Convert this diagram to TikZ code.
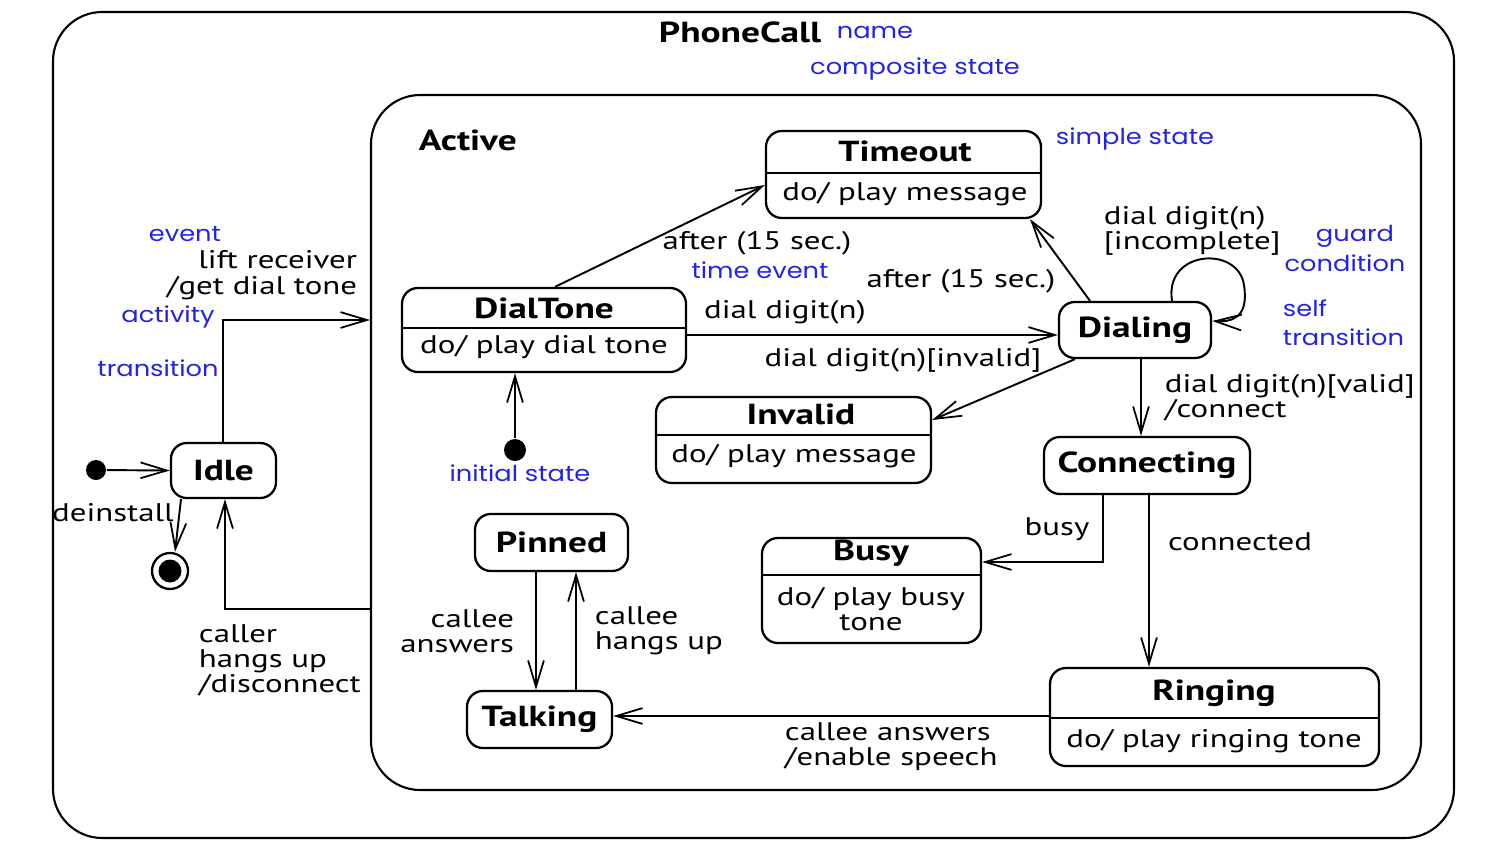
\documentclass[tikz,border=0pt]{standalone}
\usepackage{fontspec}
\setmainfont{PT Sans}[FakeStretch=1.29]
\newfontfamily\bluefont{Poppins}[FakeStretch=1.17]
\usetikzlibrary{arrows.meta,fit,calc}
\definecolor{annblue}{RGB}{35,35,230}
\begin{document}
\begin{tikzpicture}[x=0.02cm,y=-0.02cm,line width=1.1pt,
  tip/.style={-{Straight Barb[length=15pt,width=9pt,line width=1pt]}},
  st/.style={draw,line width=1.3pt,rounded corners=9pt,inner sep=0pt},
  ttl/.style={font=\fontsize{16.5}{18}\selectfont\bfseries,inner sep=0pt},
  body/.style={font=\fontsize{14.5}{14.2}\selectfont,inner sep=0pt,align=center},
  lbl/.style={font=\fontsize{14.5}{14.2}\selectfont,inner sep=0pt},
  ann/.style={text=annblue,font=\bluefont\fontsize{12.5}{15}\selectfont,inner sep=0pt}]
\useasboundingbox (0,0) rectangle (1506,845);
% frames
\node[fit={(53,12) (1454,838)},draw,line width=1.2pt,rounded corners=28pt,inner sep=0pt] (phonecall) {};
\node[fit={(371,95) (1421,790)},draw,line width=1.2pt,rounded corners=28pt,inner sep=0pt] (active) {};
\node[ttl] (pctitle) at (740,32) {PhoneCall};
\node[ann] (aname) at (875,32) {name};
\node[ann] (acomp) at (915,69) {composite state};
\node[ttl,anchor=west] (activetitle) at (418,140) {Active};
% states
\node[st,fit={(171,443) (276,498)}] (idle) {};
\node[ttl] (idlet) at (idle.center) {Idle};
\node[st,fit={(402,288) (686,372)}] (dialtone) {};
\draw (dialtone.west |- 0,328) -- (dialtone.east |- 0,328);
\node[ttl] (dialtonet) at (544,308) {DialTone};
\node[body] (dialtoneb) at (544,347) {do/ play dial tone};
\node[st,fit={(766,131) (1041,218)}] (timeout) {};
\draw (timeout.west |- 0,173) -- (timeout.east |- 0,173);
\node[ttl] (timeoutt) at (905,151) {Timeout};
\node[body] (timeoutb) at (905,194) {do/ play message};
\node[st,fit={(1059,302) (1211,358)}] (dialing) {};
\node[ttl] (dialingt) at (dialing.center) {Dialing};
\node[st,fit={(656,397) (931,483)}] (invalid) {};
\draw (invalid.west |- 0,435) -- (invalid.east |- 0,435);
\node[ttl] (invalidt) at (801,414) {Invalid};
\node[body] (invalidb) at (794,456) {do/ play message};
\node[st,fit={(1044,437) (1250,494)}] (connecting) {};
\node[ttl] (connectingt) at (connecting.center) {Connecting};
\node[st,fit={(762,538) (981,643)}] (busy) {};
\draw (busy.west |- 0,575) -- (busy.east |- 0,575);
\node[ttl] (busyt) at (871,553) {Busy};
\node[body] (busyb) at (871,609) {do/ play busy\\tone};
\node[st,fit={(1050,668) (1379,766)}] (ringing) {};
\draw (ringing.west |- 0,718) -- (ringing.east |- 0,718);
\node[ttl] (ringingt) at (1214,693) {Ringing};
\node[body] (ringingb) at (1214,741) {do/ play ringing tone};
\node[st,fit={(475,514) (628,571)}] (pinned) {};
\node[ttl] (pinnedt) at (pinned.center) {Pinned};
\node[st,fit={(467,691) (612,748)}] (talking) {};
\node[ttl] (talkingt) at (talking.center) {Talking};
% pseudo states
\node[circle,fill,inner sep=0pt,minimum size=0.4cm] (init1) at (96,470) {};
\node[circle,draw,line width=1.3pt,inner sep=0pt,minimum size=0.72cm] (final) at (170,571) {};
\node[circle,fill,inner sep=0pt,minimum size=0.46cm] (finalin) at (final.center) {};
\node[circle,fill,inner sep=0pt,minimum size=0.44cm] (init2) at (515,450) {};
% transitions
\draw[tip] (init1) -- (idle.west);
\draw[tip] (181,0 |- idle.south) -- (175,0 |- final.north);
\draw[tip] (223,0 |- idle.north) |- (active.west |- 0,320);
\draw[tip] (active.west |- 0,609) -| (225,0 |- idle.south);
\draw[tip] (init2) -- (init2 |- dialtone.south);
\draw[tip] (555,0 |- dialtone.north) -- (timeout.west |- 0,185);
\draw[tip] (1090,0 |- dialing.north) -- (1030,0 |- timeout.south);
\draw[tip] (dialtone.east |- 0,335) -- (dialing.west |- 0,335);
\draw[tip] (1075,0 |- dialing.south) -- (invalid.east |- 0,420);
\draw[tip] (1172,0 |- dialing.north) .. controls (1164,250) and (1238,245) .. (1244,285)
   .. controls (1249,318) and (1232,322) .. (dialing.east |- 0,321);
\draw[tip] (1141,0 |- dialing.south) -- (1141,0 |- connecting.north);
\draw[tip] (1103,0 |- connecting.south) |- (busy.east |- 0,562);
\draw[tip] (1149,0 |- connecting.south) -- (1149,0 |- ringing.north);
\draw[tip] (ringing.west |- 0,716) -- (talking.east |- 0,716);
\draw[tip] (536,0 |- pinned.south) -- (536,0 |- talking.north);
\draw[tip] (576,0 |- talking.north) -- (576,0 |- pinned.south);
% labels
\node[ann] (aevent) at (185,234) {event};
\node[lbl,anchor=east] (llift) at (358,260) {lift receiver};
\node[lbl,anchor=east] (lget) at (358,288) {/get dial tone};
\node[ann] (aactivity) at (168,317) {activity};
\node[ann] (atrans) at (158,368) {transition};
\node[lbl] (ldeinst) at (113,513) {deinstall};
\node[lbl,anchor=north west,align=left] (lcaller) at (198,624) {caller\\hangs up\\/disconnect};
\node[lbl] (lafter1) at (757,243) {after (15 sec.)};
\node[ann] (atime) at (760,270) {time event};
\node[lbl] (lafter2) at (961,281) {after (15 sec.)};
\node[lbl] (ldial) at (785,312) {dial digit(n)};
\node[lbl] (linvalid) at (903,360) {dial digit(n)[invalid]};
\node[lbl,anchor=north west,align=left] (lincomp) at (1103,205) {dial digit(n)\\{}[incomplete]};
\node[ann] (aguard) at (1355,236) {guard};
\node[ann] (acond) at (1345,263) {condition};
\node[ann,anchor=west] (aself) at (1282,308) {self};
\node[ann,anchor=west] (aselft) at (1282,337) {transition};
\node[lbl,anchor=north west,align=left] (lvalid) at (1164,373) {dial digit(n)[valid]\\/connect};
\node[lbl] (lbusy) at (1057,529) {busy};
\node[lbl] (lconn) at (1240,542) {connected};
\node[lbl,anchor=north west,align=left] (lcallee) at (784,722) {callee answers\\/enable speech};
\node[lbl,anchor=north east,align=right] (lca) at (515,609) {callee\\answers};
\node[lbl,anchor=north west,align=left] (lch) at (594,606) {callee\\hangs up};
\node[ann] (ainit) at (520,473) {initial state};
\node[ann] (asimple) at (1135,139) {simple state};
\end{tikzpicture}
\end{document}
